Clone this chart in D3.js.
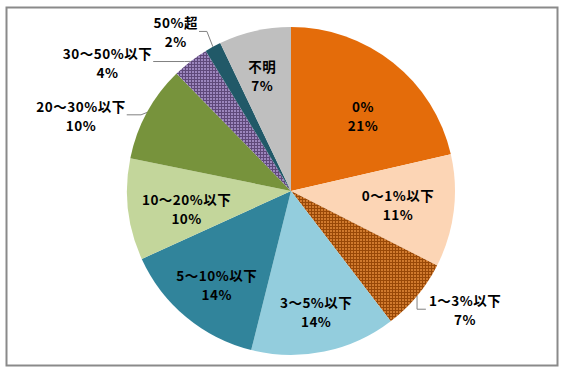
<!DOCTYPE html>
<html>
<head>
<meta charset="utf-8">
<script src="https://cdn.jsdelivr.net/npm/d3@7"></script>
<style>
  body { margin: 0; background: #fff; }
  text { font-family: "Noto Sans CJK JP", sans-serif; font-weight: bold; font-size: 13.5px; letter-spacing: 0.5px; fill: #000; }
</style>
</head>
<body>
<script>
var width = 566,
    height = 374

// share of companies by ratio
var categories = ["0%", "0～1%以下", "1～3%以下", "3～5%以下", "5～10%以下", "10～20%以下", "20～30%以下", "30～50%以下", "50%超", "不明"]
var values = [21.4, 11.1, 7.1, 14.3, 14.3, 10.0, 9.5, 3.6, 1.6, 7.1]
var colors = ["#E46C0A", "#FCD5B5", "url(#dotBrown)", "#93CDDD", "#31849B", "#C3D69B", "#77933C", "url(#dotPurple)", "#215968", "#BFBFBF"]

// label placement: [radius, angle in degrees], plus which labels get a leader line
var labelPos = {
  "0%": [104, 43.8], "0～1%以下": [108, 97.5], "1～3%以下": [211, 124.4],
  "3～5%以下": [124, 168.3], "5～10%以下": [120, 218.2], "10～20%以下": [106, 260],
  "20～30%以下": [223, 289.7], "30～50%以下": [224, 305], "50%超": [196, 324], "不明": [119, 346]
}
var leaders = ["1～3%以下", "20～30%以下", "30～50%以下", "50%超"]

var cx = 291, cy = 191, r = 164

var svg = d3.select("body").append("svg")
    .attr("width", width)
    .attr("height", height);

var defs = svg.append("defs");
function dotPattern(id, bg, fg) {
  var p = defs.append("pattern")
      .attr("id", id)
      .attr("width", 3).attr("height", 3)
      .attr("patternUnits", "userSpaceOnUse");
  p.append("rect").attr("width", 3).attr("height", 3).attr("fill", bg);
  p.append("rect").attr("width", 2).attr("height", 2).attr("fill", fg);
}
dotPattern("dotBrown", "#984807", "#D07A2E");
dotPattern("dotPurple", "#5F497A", "#9C86BD");

// frame
svg.append("rect")
    .attr("x", 6.5).attr("y", 7.5)
    .attr("width", 551).attr("height", 358)
    .attr("fill", "#fff")
    .style("stroke", "#8a8a8a")
    .style("stroke-width", 2);

var pie = d3.pie().sort(null).value(d => d.value);
var arc = d3.arc().innerRadius(0).outerRadius(r);

var data = categories.map((c, i) => ({name: c, value: values[i], color: colors[i]}));
var arcs = pie(data);

var g = svg.append("g").attr("transform", "translate(" + cx + "," + cy + ")");

g.selectAll(".slice")
    .data(arcs)
    .enter()
    .append("path")
    .attr("class", "slice")
    .attr("d", arc)
    .attr("fill", d => d.data.color);

function polar(rad, deg) {
  var a = deg * Math.PI / 180;
  return [rad * Math.sin(a), -rad * Math.cos(a)];
}

var labels = g.selectAll(".label")
    .data(arcs)
    .enter()
    .append("g")
    .attr("class", "label")
    .attr("transform", d => {
      var p = polar(labelPos[d.data.name][0], labelPos[d.data.name][1]);
      return "translate(" + p[0] + "," + p[1] + ")";
    });

labels.append("text")
    .attr("class", "l1")
    .attr("text-anchor", "middle")
    .attr("y", -4)
    .text(d => d.data.name);

labels.append("text")
    .attr("text-anchor", "middle")
    .attr("y", 15)
    .text(d => Math.round(d.data.value) + "%");

// leader lines
labels.filter(d => leaders.includes(d.data.name)).each(function(d) {
  var pos = polar(labelPos[d.data.name][0], labelPos[d.data.name][1]);
  var w = d3.select(this).select(".l1").node().getComputedTextLength();
  var mid = (d.startAngle + d.endAngle) / 2;
  var ax = r * Math.sin(mid), ay = -r * Math.cos(mid);
  var y = pos[1] - 1;
  var pts;
  if (ax < pos[0]) {
    var left = pos[0] - w / 2 - 3;
    pts = [[ax, ay], [ax, y], [left, y]];
  } else {
    var right = pos[0] + w / 2 + 1;
    var ex = Math.max(right + 7, ax - 6);
    pts = [[right, y], [ex, y], [ax, ay]];
  }
  g.append("path")
      .attr("d", d3.line()(pts))
      .attr("fill", "none")
      .style("stroke", "#808080")
      .style("stroke-width", 1);
});
</script>
</body>
</html>
